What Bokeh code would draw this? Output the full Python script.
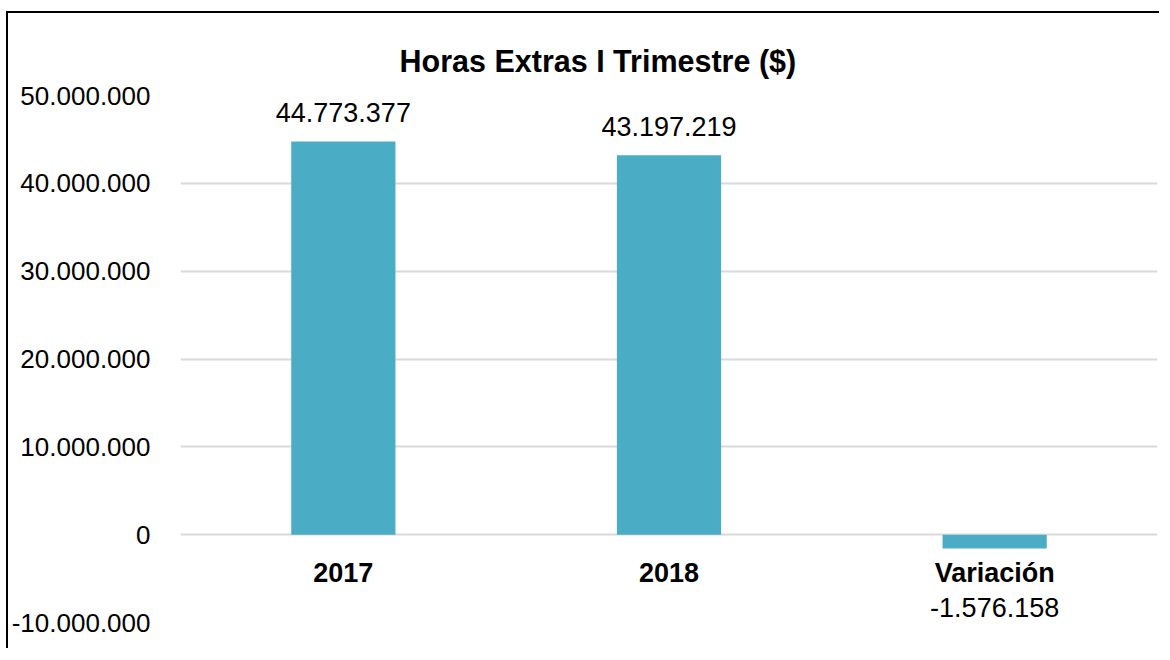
from bokeh.plotting import figure
from bokeh.models import Range1d, CustomJSTickFormatter, ColumnDataSource, FixedTicker, Title
from bokeh.core.properties import value
from bokeh.embed import file_html
from bokeh.resources import INLINE

categories = ["2017", "2018", "Variación"]
values = [44773377, 43197219, -1576158]
value_labels = ["44.773.377", "43.197.219", "-1.576.158"]
y_ticks = [-10000000, 0, 10000000, 20000000, 30000000, 40000000, 50000000]
title_text = "Horas Extras I Trimestre ($)"

FONT = "Liberation Sans"
BAR = "#4BACC6"
GRID = "#D9D9D9"

p = figure(
    x_range=categories,
    y_range=Range1d(-10000000, 50000000),
    frame_width=977, frame_height=527,
    output_backend="svg", toolbar_location=None,
    min_border_left=172, min_border_right=2,
    min_border_top=82, min_border_bottom=26,
)
p.styles = {"border-left": "2px solid #000000", "border-top": "2px solid #000000",
            "margin-top": "11px", "margin-left": "6px"}
p.outline_line_color = None
p.background_fill_color = "white"
p.border_fill_color = "white"

t = Title(text=title_text, align="left", offset=219,
          text_font=FONT, text_font_size="30.5px", text_font_style="bold",
          text_color="#000000", standoff=36)
p.add_layout(t, "above")

src = ColumnDataSource(dict(cat=categories, val=values, lab=value_labels))
p.vbar(x="cat", top="val", bottom=0, width=0.32, source=src,
       fill_color=BAR, line_color=None)

pos = [i for i, v in enumerate(values) if v >= 0]
neg = [i for i, v in enumerate(values) if v < 0]
src_pos = ColumnDataSource(dict(cat=[categories[i] for i in pos], val=[values[i] for i in pos],
                                lab=[value_labels[i] for i in pos]))
src_neg = ColumnDataSource(dict(cat=[categories[i] for i in neg], val=[values[i] for i in neg],
                                lab=[value_labels[i] for i in neg]))
p.text(x="cat", y="val", text="lab", source=src_pos, text_align="center",
       text_baseline="bottom", y_offset=-19, text_font=value(FONT),
       text_font_size="27px", text_color="#000000")
p.text(x="cat", y="val", text="lab", source=src_neg, text_align="center",
       text_baseline="top", y_offset=49, text_font=value(FONT),
       text_font_size="27px", text_color="#000000")

# grid
p.xgrid.grid_line_color = None
p.ygrid.grid_line_color = GRID
p.ygrid.grid_line_width = 2
p.yaxis.ticker = FixedTicker(ticks=y_ticks)

# y axis
p.yaxis.formatter = CustomJSTickFormatter(code="""
return Math.round(tick).toFixed(0).replace(/\\B(?=(\\d{3})+(?!\\d))/g, ".");
""")
p.yaxis.axis_line_color = None
p.yaxis.major_tick_line_color = None
p.yaxis.minor_tick_line_color = None
p.yaxis.major_tick_out = 0
p.yaxis.major_tick_in = 0
p.yaxis.major_label_standoff = 30
p.yaxis.major_label_text_font = FONT
p.yaxis.major_label_text_font_size = "26px"
p.yaxis.major_label_text_color = "#000000"

# x axis at zero
p.xaxis.fixed_location = 0
p.xaxis.axis_line_color = None
p.xaxis.major_tick_line_color = None
p.xaxis.minor_tick_line_color = None
p.xaxis.major_tick_out = 0
p.xaxis.major_tick_in = 0
p.xaxis.major_label_standoff = 23
p.xaxis.major_label_text_font = FONT
p.xaxis.major_label_text_font_size = "27px"
p.xaxis.major_label_text_font_style = "bold"
p.xaxis.major_label_text_color = "#000000"
p.x_range.range_padding = 0

open("out.html", "w").write(file_html(p, INLINE))
